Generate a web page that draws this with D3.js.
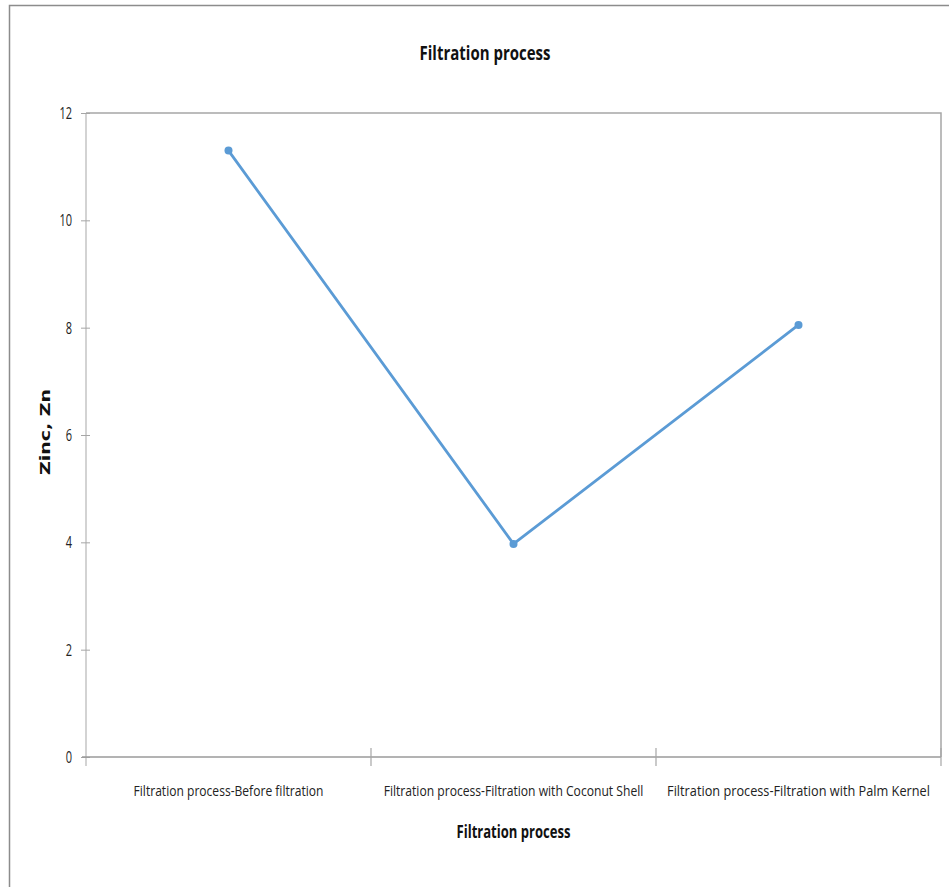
<!DOCTYPE html>
<html>
<head>
<meta charset="utf-8">
<script src="https://cdn.jsdelivr.net/npm/d3@7"></script>
<style>
  html, body { margin: 0; padding: 0; background: #fff; }
  svg { display: block; }
</style>
</head>
<body>
<script>
// Zinc concentration by filtration stage
const categories = [
  "Filtration process-Before filtration",
  "Filtration process-Filtration with Coconut Shell",
  "Filtration process-Filtration with Palm Kernel"
];
const zincValues = [11.3, 3.97, 8.05];
const yTicks = [0, 2, 4, 6, 8, 10, 12];
const chartTitle = "Filtration process";
const xTitle = "Filtration process";
const yTitle = "Zinc, Zn";

const W = 949, H = 887;
const plot = { left: 86, right: 941, top: 113, bottom: 757 };
const narrow = "'Liberation Sans Narrow', 'Open Sans', 'Liberation Sans', sans-serif";

const svg = d3.select("body").append("svg")
  .attr("width", W).attr("height", H);

// scale a text horizontally about its anchor so it spans the given width
function fitWidth(node, width, base) {
  const len = node.getComputedTextLength();
  const sx = width / len;
  d3.select(node).attr("transform", `${base || ""} scale(${sx},1)`);
}

// chart frame
svg.append("rect")
  .attr("x", 9.5).attr("y", 5.5)
  .attr("width", 1000).attr("height", 1000)
  .attr("fill", "none").attr("stroke", "#8c8c8c").attr("stroke-width", 1.5);

const x = d3.scaleBand().domain(categories).range([plot.left, plot.right]);
const y = d3.scaleLinear().domain([0, 12]).range([plot.bottom, plot.top]);

// plot area top and right edges
svg.append("path")
  .attr("d", `M${plot.left},${plot.top}H${plot.right}V${plot.bottom}`)
  .attr("fill", "none").attr("stroke", "#a6a6a6").attr("stroke-width", 1.5);

// y axis
const yAxis = svg.append("g")
  .attr("transform", `translate(${plot.left},0)`)
  .call(d3.axisLeft(y).tickValues(yTicks).tickSize(5).tickPadding(9));
yAxis.select(".domain").attr("stroke", "#c4c4c4").attr("stroke-width", 1.5)
  .attr("d", `M0,${plot.top}V${plot.bottom + 9}`);
yAxis.selectAll(".tick line").attr("stroke", "#a6a6a6").attr("x2", -5).attr("x1", 4);
yAxis.selectAll(".tick text")
  .attr("x", 0).attr("dy", "0.34em")
  .attr("font-family", narrow).attr("font-size", 16).attr("fill", "#222")
  .each(function () {
    fitWidth(this, this.textContent.length * 6.3, "translate(-14,0)");
  });

// x axis
const xAxis = svg.append("g")
  .attr("transform", `translate(0,${plot.bottom})`)
  .call(d3.axisBottom(x).tickSize(0).tickPadding(0));
xAxis.select(".domain").attr("stroke", "#9a9a9a").attr("stroke-width", 1.5)
  .attr("d", `M${plot.left - 4},0H${plot.right}`);
xAxis.selectAll(".tick line").remove();
const labelWidths = [190, 260, 263];
xAxis.selectAll(".tick text")
  .attr("y", 39).attr("dy", null)
  .attr("font-family", narrow).attr("font-size", 15).attr("fill", "#222")
  .each(function (d, i) { fitWidth(this, labelWidths[i]); });

// category boundary ticks
const bounds = categories.slice(1).map(c => x(c)).concat([plot.right]);
svg.append("g").selectAll("line").data(bounds).join("line")
  .attr("x1", d => d).attr("x2", d => d)
  .attr("y1", plot.bottom - 9).attr("y2", plot.bottom + 9)
  .attr("stroke", "#a6a6a6").attr("stroke-width", 1.2);

// series line and markers
const pts = categories.map((c, i) => [x(c) + x.bandwidth() / 2, y(zincValues[i])]);
svg.append("path")
  .attr("d", d3.line()(pts))
  .attr("fill", "none").attr("stroke", "#5b9bd5").attr("stroke-width", 2.8)
  .attr("stroke-linejoin", "round");
svg.append("g").selectAll("circle").data(pts).join("circle")
  .attr("cx", d => d[0]).attr("cy", d => d[1]).attr("r", 4)
  .attr("fill", "#5b9bd5");

// titles
svg.append("text")
  .attr("text-anchor", "middle")
  .attr("font-family", narrow).attr("font-weight", "bold").attr("font-size", 20)
  .attr("fill", "#111")
  .text(chartTitle)
  .each(function () { fitWidth(this, 131, "translate(485,60)"); });

svg.append("text")
  .attr("text-anchor", "middle")
  .attr("font-family", narrow).attr("font-weight", "bold").attr("font-size", 18)
  .attr("fill", "#111")
  .text(xTitle)
  .each(function () { fitWidth(this, 114, `translate(${(plot.left + plot.right) / 2},838)`); });

svg.append("text")
  .attr("text-anchor", "middle")
  .attr("font-family", "'DejaVu Sans', Verdana, sans-serif").attr("font-weight", "bold")
  .attr("font-size", 14).attr("fill", "#111")
  .text(yTitle)
  .each(function () {
    fitWidth(this, 86, `translate(50,${(plot.top + plot.bottom) / 2 - 3}) rotate(-90)`);
  });
</script>
</body>
</html>
